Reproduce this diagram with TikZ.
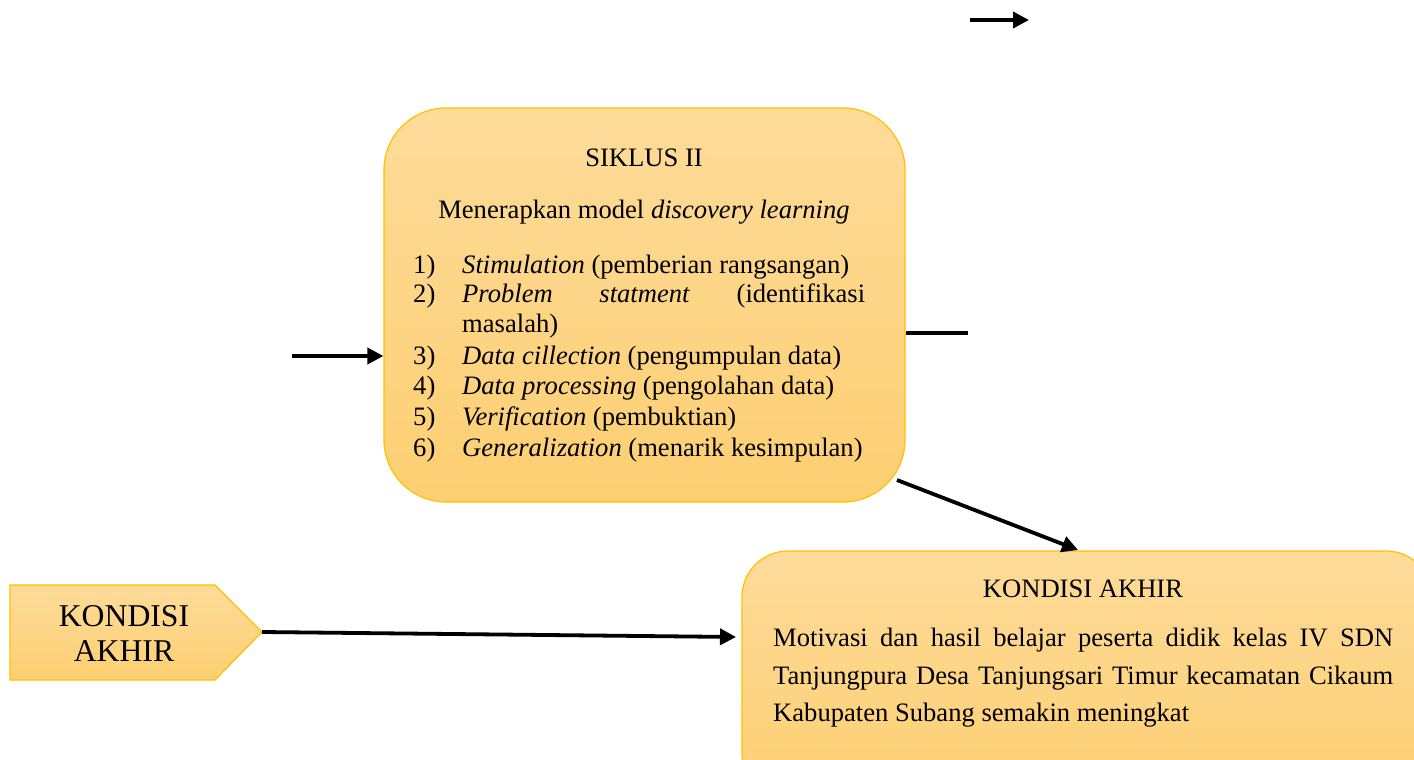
\documentclass[tikz,border=0pt]{standalone}
\usepackage{fontspec}
\setmainfont{Liberation Serif}
\usetikzlibrary{arrows.meta}
\definecolor{boxtop}{HTML}{FDDB9A}
\definecolor{boxbot}{HTML}{FDCF72}
\definecolor{boxline}{HTML}{FFC000}
\begin{document}
\begin{tikzpicture}[x=1pt,y=-1pt,
  boxshade/.style={draw=boxline, line width=1.2pt, top color=boxtop, bottom color=boxbot},
  rbox/.style={boxshade, rectangle, inner sep=0pt},
  txt/.style={inner sep=0pt, anchor=base west, font=\fontsize{26.6}{30}\selectfont},
  ctxt/.style={inner sep=0pt, anchor=base, font=\fontsize{26.6}{30}\selectfont},
  conn/.style={line width=3.8pt, -{Triangle[length=16pt,width=16pt]}},
  plain/.style={line width=3.8pt}]
\useasboundingbox (0,0) rectangle (1414,760);
% boxes
\node[rbox, rounded corners=62pt, minimum width=521pt, minimum height=394pt] (s2) at (644.5,305) {};
\node[rbox, rounded corners=46pt, minimum width=690pt, minimum height=250pt] (ka) at (1087,676) {};
% pentagon
\path[boxshade] (10,585) -- (215,585) -- (262,632) -- (215,680) -- (10,680) -- cycle;
\coordinate (tip) at (262,632);
\node[inner sep=0pt, anchor=base, font=\fontsize{31.7}{35}\selectfont] (p1) at (124,626) {KONDISI};
\node[inner sep=0pt, anchor=base, font=\fontsize{31.7}{35}\selectfont] (p2) at (124,661) {AKHIR};
% texts box 1
\node[ctxt] (t1) at (644,166) {SIKLUS II};
\node[ctxt] (t2) at (644,218) {Menerapkan model \textit{discovery learning}};
\node[txt] (n1) at (413,273) {1)};
\node[txt] (n2) at (413,302) {2)};
\node[txt] (n3) at (413,364) {3)};
\node[txt] (n4) at (413,394) {4)};
\node[txt] (n5) at (413,425) {5)};
\node[txt] (n6) at (413,456) {6)};
\node[txt] (i1) at (462,273) {\textit{Stimulation} (pemberian rangsangan)};
\node[txt] (i2) at (462,302) {\hbox to 403pt{\textit{Problem}\hfill\textit{statment}\hfill(identifikasi}};
\node[txt] (i2b) at (462,332) {masalah)};
\node[txt] (i3) at (462,364) {\textit{Data cillection} (pengumpulan data)};
\node[txt] (i4) at (462,394) {\textit{Data processing} (pengolahan data)};
\node[txt] (i5) at (462,425) {\textit{Verification} (pembuktian)};
\node[txt] (i6) at (462,456) {\textit{Generalization} (menarik kesimpulan)};
% texts box 2
\node[ctxt] (k1) at (1083,597) {KONDISI AKHIR};
\node[txt, anchor=north west] (k2) at (773,628) {\parbox{620pt}{\fontsize{26.6}{37.5}\selectfont Motivasi dan hasil belajar peserta didik kelas IV SDN\linebreak Tanjungpura Desa Tanjungsari Timur kecamatan Cikaum\linebreak Kabupaten Subang semakin meningkat}};
% connectors
\coordinate (a1) at (970,20);
\coordinate (a2) at (1029,20);
\draw[conn] (a1) -- (a2);
\coordinate (b1) at (292,356);
\draw[conn] (b1) -- (s2.west |- b1);
\coordinate (c1) at (906,333);
\coordinate (c2) at (968,333);
\draw[plain] (c1) -- (c2);
\coordinate (d1) at (897,480);
\coordinate (d2) at (1078,550);
\draw[conn] (d1) -- (d2);
\coordinate (e2) at (736,637);
\draw[conn] (tip) -- (e2);
\end{tikzpicture}
\end{document}
